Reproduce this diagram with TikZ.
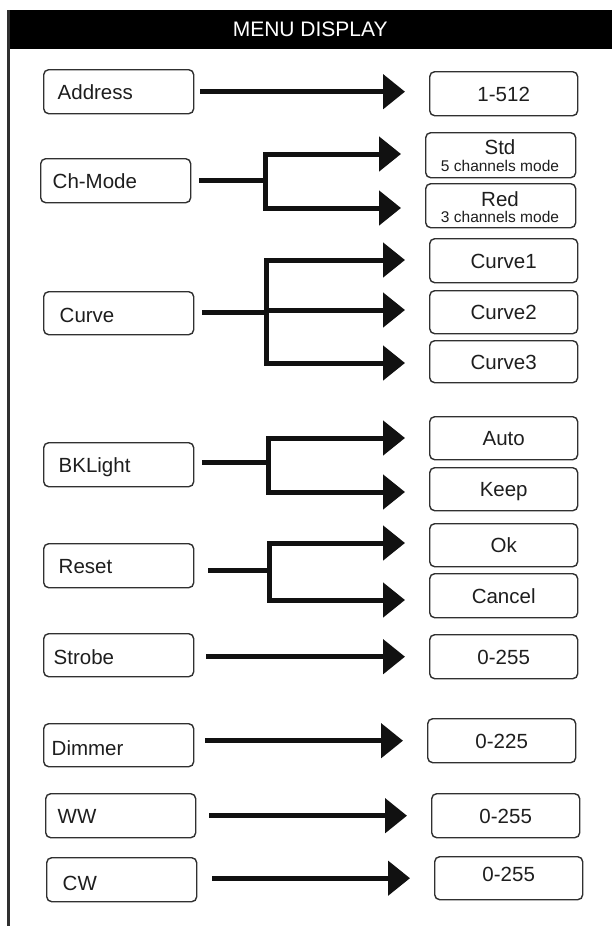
\documentclass[tikz,border=0pt]{standalone}
\usepackage{fontspec}
\setmainfont{Liberation Sans}
\usetikzlibrary{arrows.meta}
\definecolor{boxc}{HTML}{303030}
\definecolor{txtc}{HTML}{1E1E1E}
\definecolor{linec}{HTML}{111111}
\newcommand\bigtxt{\fontsize{20.5pt}{24pt}\selectfont}
\newcommand\smalltxt{\fontsize{15.5pt}{18pt}\selectfont}
\newcommand\hdrtxt{\fontsize{21pt}{24pt}\selectfont}
\begin{document}
\begin{tikzpicture}[x=1pt,y=-1pt,
  lbox/.style={draw=boxc, line width=1.4pt, rounded corners=5pt, anchor=north west,
    minimum height=44pt, text width=150pt, inner xsep=0pt, inner ysep=0pt, align=left,
    font=\bigtxt, text=txtc, text height=14.7pt, text depth=0pt},
  rbox/.style={draw=boxc, line width=1.4pt, rounded corners=5pt, anchor=north west,
    minimum height=44pt, minimum width=148pt, inner sep=0pt,
    font=\bigtxt, text=txtc, text height=14.7pt, text depth=0pt},
  btxt/.style={inner sep=0pt, font=\bigtxt, text=txtc, text height=14.7pt, text depth=0pt},
  stxt/.style={inner sep=0pt, font=\smalltxt, text=txtc, text height=11.1pt, text depth=0pt},
  conn/.style={draw=linec, line width=5pt},
  tip/.style={-{Triangle[length=22pt,width=34pt]}, shorten >=24pt},
  tips/.style={{Triangle[length=22pt,width=34pt]}-{Triangle[length=22pt,width=34pt]},
    shorten >=24pt, shorten <=24pt},
]
\useasboundingbox (0,0) rectangle (612,926);
\fill[white] (0,0) rectangle (612,926);

% header and frame
\node[fill=black, anchor=north west, minimum width=604pt, minimum height=39pt,
  inner sep=0pt, text=white, font=\hdrtxt] (header) at (8,10) {MENU DISPLAY};
\draw[boxc, line width=2.2pt] (8.5,10) -- (8.5,926);

% Address
\node[lbox] (address) at (43,69) {\hspace*{14pt}Address};
\node[rbox] (one) at (429,71) {1-512};
\draw[conn,tip,shorten <=6pt] (address.east) -- (address.east -| one.west);

% Ch-Mode
\node[lbox] (chmode) at (40,158) {\hspace*{12pt}Ch-Mode};
\node[rbox, minimum width=150pt, minimum height=45pt] (std) at (425,132) {};
\node[btxt] (stdt) at (500,147) {Std};
\node[stxt] (stds) at (500,166) {5 channels mode};
\node[rbox, minimum width=150pt] (red) at (425,183) {};
\node[btxt] (redt) at (500,199) {Red};
\node[stxt] (reds) at (500,217) {3 channels mode};
\coordinate (chj) at (265,180);
\coordinate (chu) at (265,154);
\coordinate (chd) at (265,208);
\draw[conn,shorten <=8pt] (chmode.east |- chj) -- (chj);
\draw[conn,tips] (chd -| red.west) -- (chd) -- (chu) -- (chu -| std.west);

% Curve
\node[lbox, minimum height=43pt] (curve) at (43,291) {\hspace*{16pt}\raisebox{-1.5pt}{Curve}};
\node[rbox] (curve1) at (429,238) {Curve1};
\node[rbox, minimum height=43pt] (curve2) at (429,290) {Curve2};
\node[rbox, minimum height=42pt] (curve3) at (429,340) {Curve3};
\coordinate (cvj) at (266,312);
\coordinate (cvu) at (266,260);
\coordinate (cvm) at (266,310);
\coordinate (cvd) at (266,363);
\draw[conn,shorten <=8pt] (curve.east |- cvj) -- (cvj);
\draw[conn,tips] (cvd -| curve3.west) -- (cvd) -- (cvu) -- (cvu -| curve1.west);
\draw[conn,tip] (cvm) -- (cvm -| curve2.west);

% BKLight
\node[lbox] (bklight) at (43,442) {\hspace*{15pt}BKLight};
\node[rbox, minimum height=43pt] (auto) at (429,416) {Auto};
\node[rbox, minimum height=43pt] (keep) at (429,467) {Keep};
\coordinate (bkj) at (268,462);
\coordinate (bku) at (268,438);
\coordinate (bkd) at (268,492);
\draw[conn,shorten <=8pt] (bklight.east |- bkj) -- (bkj);
\draw[conn,tips] (bkd -| keep.west) -- (bkd) -- (bku) -- (bku -| auto.west);

% Reset
\node[lbox] (reset) at (43,543) {\hspace*{15pt}Reset};
\node[rbox, minimum height=43pt] (ok) at (429,523) {Ok};
\node[rbox] (cancel) at (429,573) {Cancel};
\coordinate (rsj) at (269,570);
\coordinate (rsu) at (269,543);
\coordinate (rsd) at (269,600);
\draw[conn,shorten <=14pt] (reset.east |- rsj) -- (rsj);
\draw[conn,tips] (rsd -| cancel.west) -- (rsd) -- (rsu) -- (rsu -| ok.west);

% Strobe
\node[lbox, minimum height=43pt] (strobe) at (43,633) {\hspace*{10pt}\raisebox{-1.5pt}{Strobe}};
\node[rbox] (s255) at (429,634) {0-255};
\draw[conn,tip,shorten <=12pt] (strobe.east |- s255.west) -- (s255.west);

% Dimmer
\node[lbox, minimum height=43pt] (dimmer) at (43,723) {\hspace*{8pt}\raisebox{-2.5pt}{Dimmer}};
\node[rbox] (d225) at (427,718) {0-225};
\draw[conn,tip,shorten <=11pt] (dimmer.east |- d225.west) -- (d225.west);

% WW
\node[lbox] (ww) at (45,793) {\hspace*{12pt}WW};
\node[rbox] (w255) at (431,793) {0-255};
\draw[conn,tip,shorten <=13pt] (ww.east |- w255.west) -- (w255.west);

% CW
\node[lbox] (cw) at (46,857) {\hspace*{16pt}\raisebox{-3pt}{CW}};
\node[rbox, minimum height=43pt] (c255) at (434,856) {\raisebox{4.5pt}{0-255}};
\draw[conn,tip,shorten <=15pt] (cw.east |- c255.west) -- (c255.west);
\end{tikzpicture}
\end{document}
